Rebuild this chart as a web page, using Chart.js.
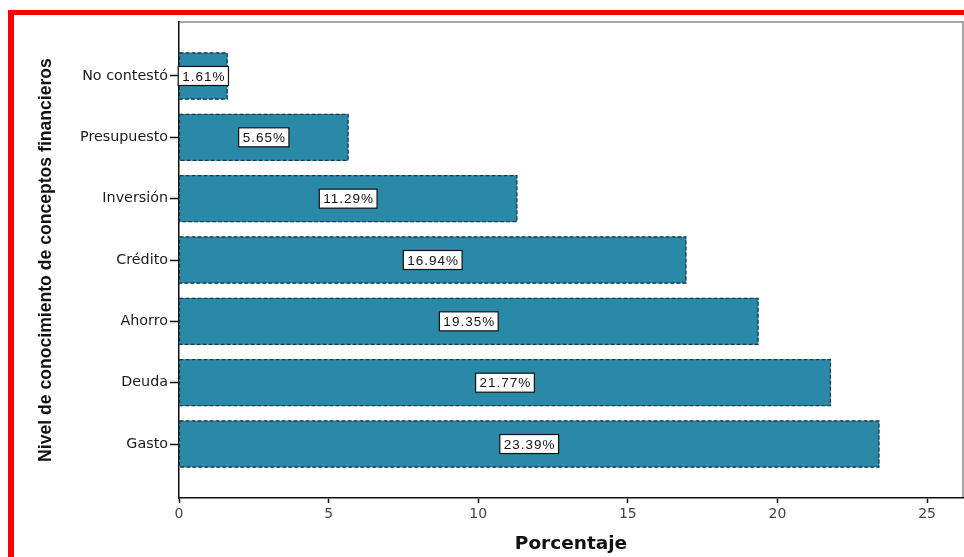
<!DOCTYPE html>
<html>
<head>
<meta charset="utf-8">
<script src="https://cdn.jsdelivr.net/npm/chart.js@4.4.1/dist/chart.umd.min.js"></script>
<style>
  html, body { margin: 0; padding: 0; background: #fff; }
  #wrap { position: relative; width: 964px; height: 557px; overflow: hidden; }
  #marco { position: absolute; left: 8px; top: 10px; right: 0; bottom: 0; border-top: 5px solid #ff0000; border-left: 6px solid #ff0000; }
  #grafico { position: absolute; left: 0; top: 0; }
</style>
</head>
<body>
<div id="wrap">
  <div id="marco"></div>
  <canvas id="grafico" width="964" height="557"></canvas>
</div>
<script>
// Datos (de arriba hacia abajo)
const categorias = ['No contestó', 'Presupuesto', 'Inversión', 'Crédito', 'Ahorro', 'Deuda', 'Gasto'];
const porcentajes = [1.61, 5.65, 11.29, 16.94, 19.35, 21.77, 23.39];
const ticksX = [0, 5, 10, 15, 20, 25];

const fuente = 'Liberation Sans, Arial, sans-serif';
const fuenteEjes = 'DejaVu Sans, Verdana, sans-serif';

// borde gris superior y derecho del área
const marcoArea = {
  id: 'marcoArea',
  beforeDraw(chart) {
    const { ctx, chartArea: a } = chart;
    ctx.save();
    ctx.strokeStyle = '#8a8a8a';
    ctx.lineWidth = 1.5;
    ctx.beginPath();
    ctx.moveTo(a.left, a.top);
    ctx.lineTo(a.right, a.top);
    ctx.lineTo(a.right, a.bottom);
    ctx.stroke();
    ctx.restore();
  }
};

// borde punteado de las barras y etiquetas de porcentaje
const bordesYEtiquetas = {
  id: 'bordesYEtiquetas',
  afterDatasetsDraw(chart) {
    const ctx = chart.ctx;
    const meta = chart.getDatasetMeta(0);
    meta.data.forEach((bar, i) => {
      const { x, y, base, height } = bar.getProps(['x', 'y', 'base', 'height'], true);
      ctx.save();
      ctx.setLineDash([4, 2]);
      ctx.strokeStyle = '#1c3a4c';
      ctx.lineWidth = 1.3;
      ctx.strokeRect(base, y - height / 2, x - base, height);
      ctx.setLineDash([]);

      const texto = porcentajes[i].toFixed(2) + '%';
      ctx.letterSpacing = '1px';
      ctx.font = '13.5px ' + fuente;
      const w = ctx.measureText(texto).width + 7;
      const h = 19;
      const cx = (base + x) / 2;
      ctx.fillStyle = '#ffffff';
      ctx.fillRect(cx - w / 2, y - h / 2, w, h);
      ctx.strokeStyle = '#111';
      ctx.lineWidth = 1.2;
      ctx.strokeRect(cx - w / 2, y - h / 2, w, h);
      ctx.fillStyle = '#111';
      ctx.textAlign = 'center';
      ctx.textBaseline = 'middle';
      ctx.fillText(texto, cx + 0.5, y + 1);
      ctx.restore();
    });
  }
};

const ctx = document.getElementById('grafico').getContext('2d');
new Chart(ctx, {
  type: 'bar',
  data: {
    datasets: [{
      data: porcentajes.map((v, i) => ({ x: v, y: i })),
      backgroundColor: '#2b89a8',
      borderWidth: 0,
      barThickness: 46
    }]
  },
  options: {
    indexAxis: 'y',
    responsive: false,
    animation: false,
    layout: { padding: { left: 0, top: 22, right: 1, bottom: 0 } },
    plugins: {
      legend: { display: false },
      tooltip: { enabled: false }
    },
    scales: {
      y: {
        type: 'linear',
        reverse: true,
        offset: false,
        min: -0.88,
        max: 6.88,
        afterBuildTicks: (s) => { s.ticks = categorias.map((c, i) => ({ value: i })); },
        afterFit: (s) => { s.width = 179; },
        ticks: {
          callback: (v) => categorias[v],
          color: '#1a1a1a',
          font: { family: fuenteEjes, size: 14.3 },
          padding: 2
        },
        grid: { offset: false, drawOnChartArea: false, drawTicks: true, tickLength: 9, tickColor: '#111', tickWidth: 1.5 },
        border: { color: '#111', width: 1.5 },
        title: {
          display: true,
          text: 'Nivel de conocimiento de conceptos financieros',
          color: '#111',
          font: { family: fuente, size: 17.6, weight: 'bold' },
          padding: { top: 36 }
        }
      },
      x: {
        type: 'linear',
        min: 0,
        max: 26.2,
        afterBuildTicks: (s) => { s.ticks = ticksX.map(v => ({ value: v })); },
        afterFit: (s) => { s.height = 59; },
        ticks: {
          color: '#444',
          font: { family: fuenteEjes, size: 14 },
          padding: 3
        },
        grid: { drawOnChartArea: false, drawTicks: true, tickLength: 5, tickColor: '#111', tickWidth: 1.5 },
        border: { color: '#111', width: 1.5 },
        title: {
          display: true,
          text: 'Porcentaje',
          color: '#111',
          font: { family: fuenteEjes, size: 18.5, weight: 'bold' },
          padding: { bottom: 2 }
        }
      }
    }
  },
  plugins: [marcoArea, bordesYEtiquetas]
});
</script>
</body>
</html>
